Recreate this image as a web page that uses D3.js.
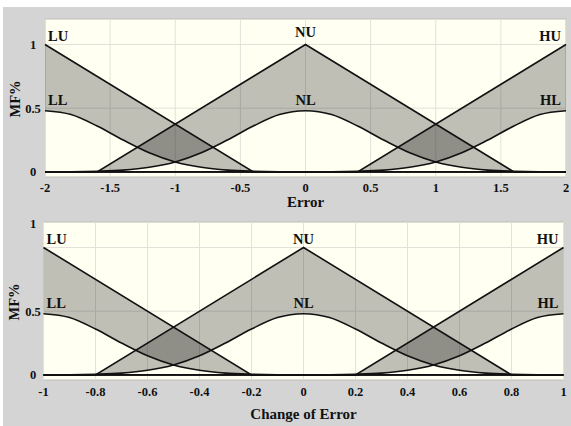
<!DOCTYPE html>
<html>
<head>
<meta charset="utf-8">
<script src="https://cdn.jsdelivr.net/npm/d3@7"></script>
<style>
  html, body { margin: 0; padding: 0; background: #ffffff; }
  svg { display: block; }
  text { font-family: "Liberation Serif", "Times New Roman", serif; font-weight: bold; fill: #111; }
</style>
</head>
<body>
<svg id="chart" width="571" height="426"></svg>
<script>
// ---- Data -------------------------------------------------------------
// Upper membership functions (triangles), Error universe [-2, 2]
const errUpperLU = [[-2, 1], [-0.4, 0], [2, 0]];
const errUpperNU = [[-2, 0], [-1.6, 0], [0, 1], [1.6, 0], [2, 0]];
const errUpperHU = [[-2, 0], [0.4, 0], [2, 1]];

// Upper membership functions, Change of Error universe [-1, 1]
const dErrUpperLU = [[-1, 1], [-0.2, 0], [1, 0]];
const dErrUpperNU = [[-1, 0], [-0.8, 0], [0, 1], [0.8, 0], [1, 0]];
const dErrUpperHU = [[-1, 0], [0.2, 0], [1, 1]];

// Lower membership functions: height read at distances from each centre
const lowerHeights   = [0.48, 0.45, 0.36, 0.25, 0.15, 0.078, 0.036, 0.014, 0.005, 0.001, 0, 0];
const errLowerDist   = [0, 0.2, 0.4, 0.6, 0.8, 1.0, 1.2, 1.4, 1.6, 1.8, 2.0, 4.0];
const dErrLowerDist  = [0, 0.1, 0.2, 0.3, 0.4, 0.5, 0.6, 0.7, 0.8, 0.9, 1.0, 2.0];
const errCentres     = [-2, 0, 2];
const dErrCentres    = [-1, 0, 1];

// Axis ticks
const errTicks     = [-2, -1.5, -1, -0.5, 0, 0.5, 1, 1.5, 2];
const errTickText  = ["-2", "-1.5", "-1", "-0.5", "0", "0.5", "1", "1.5", "2"];
const dErrTicks    = [-1, -0.8, -0.6, -0.4, -0.2, 0, 0.2, 0.4, 0.6, 0.8, 1];
const dErrTickText = ["-1", "-0.8", "-0.6", "-0.4", "-0.2", "0", "0.2", "0.4", "0.6", "0.8", "1"];
const yTicks       = [0, 0.5, 1];
const yTickText    = ["0", "0.5", "1"];

const upperNames = ["LU", "NU", "HU"];
const lowerNames = ["LL", "NL", "HL"];

// ---- Drawing ----------------------------------------------------------
const svg = d3.select("#chart");
svg.append("rect").attr("x", 3).attr("y", 7).attr("width", 568).attr("height", 419).attr("fill", "#d4d4d4");

function lowerPoints(centre, dists, xmin, xmax) {
  const pts = [];
  dists.forEach((d, i) => {
    const h = lowerHeights[i];
    if (centre - d >= xmin) pts.push([centre - d, h]);
    if (d > 0 && centre + d <= xmax) pts.push([centre + d, h]);
  });
  return pts.sort((a, b) => a[0] - b[0]);
}

function panel(cfg) {
  const g = svg.append("g");
  const x = d3.scaleLinear().domain(cfg.xDomain).range([cfg.left, cfg.right]);
  const y = d3.scaleLinear().domain([-0.04, 1.2]).range([cfg.bottom, cfg.top]);

  // plot background
  g.append("rect").attr("x", cfg.left).attr("y", cfg.top)
    .attr("width", cfg.right - cfg.left).attr("height", cfg.bottom - cfg.top)
    .attr("fill", "#fffff2").attr("stroke", "#bdbdb6").attr("stroke-width", 1);

  // grid
  g.append("g").selectAll("line").data(cfg.ticks).join("line")
    .attr("x1", d => x(d)).attr("x2", d => x(d))
    .attr("y1", cfg.top).attr("y2", cfg.bottom)
    .attr("stroke", "#e2e2da").attr("stroke-width", 1);
  g.append("g").selectAll("line").data([0.5, 1]).join("line")
    .attr("x1", cfg.left).attr("x2", cfg.right)
    .attr("y1", d => y(d)).attr("y2", d => y(d))
    .attr("stroke", "#e2e2da").attr("stroke-width", 1);

  const lin = d3.line().x(d => x(d[0])).y(d => y(d[1]));
  const smooth = d3.line().x(d => x(d[0])).y(d => y(d[1])).curve(d3.curveMonotoneX);

  const lowers = cfg.centres.map(c => lowerPoints(c, cfg.dists, cfg.xDomain[0], cfg.xDomain[1]));

  // footprint of uncertainty: between each upper and lower MF
  cfg.uppers.forEach((up, i) => {
    const rev = up.slice().reverse().map(p => `L${x(p[0])},${y(p[1])}`).join("");
    g.append("path").attr("d", smooth(lowers[i]) + rev + "Z")
      .attr("fill", "#000").attr("fill-opacity", 0.25).attr("stroke", "none");
  });

  // MF outlines
  cfg.uppers.forEach(up => {
    g.append("path").attr("d", lin(up)).attr("fill", "none")
      .attr("stroke", "#111").attr("stroke-width", 1.6);
  });
  lowers.forEach(lo => {
    g.append("path").attr("d", smooth(lo)).attr("fill", "none")
      .attr("stroke", "#111").attr("stroke-width", 1.6);
  });

  // x tick labels
  g.append("g").selectAll("text").data(cfg.ticks).join("text")
    .attr("x", d => x(d)).attr("y", cfg.bottom + cfg.tickGap)
    .attr("text-anchor", "middle").attr("font-size", 12.5)
    .text((d, i) => cfg.tickText[i]);

  // y tick labels
  g.append("g").selectAll("text").data(yTicks).join("text")
    .attr("x", 33)
    .attr("y", d => (cfg.oneAtTop && d === 1) ? cfg.top + 2 : y(d))
    .attr("dy", "0.35em")
    .attr("text-anchor", "middle").attr("font-size", 12.5)
    .text((d, i) => yTickText[i]);

  // axis titles
  g.append("text").attr("x", (cfg.left + cfg.right) / 2).attr("y", cfg.xLabelY)
    .attr("text-anchor", "middle").attr("font-size", 15).text(cfg.xLabel);
  g.append("text")
    .attr("transform", `translate(${cfg.yLabelX},${(cfg.top + cfg.bottom) / 2 + 1}) rotate(-90)`)
    .attr("text-anchor", "middle").attr("dy", "0.35em").attr("font-size", 14.5).text("MF%");

  // MF names
  const anchors = ["start", "middle", "end"];
  const dxs = [3, 0, -5];
  cfg.centres.forEach((c, i) => {
    g.append("text").attr("x", x(c) + dxs[i]).attr("y", y(1) - (i === 1 ? cfg.nuGap : 3))
      .attr("text-anchor", anchors[i]).attr("font-size", 14.5).text(upperNames[i]);
    g.append("text").attr("x", x(c) + dxs[i]).attr("y", y(lowerHeights[0]) - 6)
      .attr("text-anchor", anchors[i]).attr("font-size", 14.5).text(lowerNames[i]);
  });
}

panel({
  left: 45, right: 566, top: 19, bottom: 177,
  xDomain: [-2, 2], ticks: errTicks, tickText: errTickText, tickGap: 14.5,
  uppers: [errUpperLU, errUpperNU, errUpperHU],
  centres: errCentres, dists: errLowerDist,
  xLabel: "Error", xLabelY: 207, yLabelX: 15, nuGap: 7, oneAtTop: false
});

panel({
  left: 43.5, right: 563.5, top: 222, bottom: 380,
  xDomain: [-1, 1], ticks: dErrTicks, tickText: dErrTickText, tickGap: 16,
  uppers: [dErrUpperLU, dErrUpperNU, dErrUpperHU],
  centres: dErrCentres, dists: dErrLowerDist,
  xLabel: "Change of Error", xLabelY: 419, yLabelX: 14, nuGap: 3, oneAtTop: true
});
</script>
</body>
</html>
